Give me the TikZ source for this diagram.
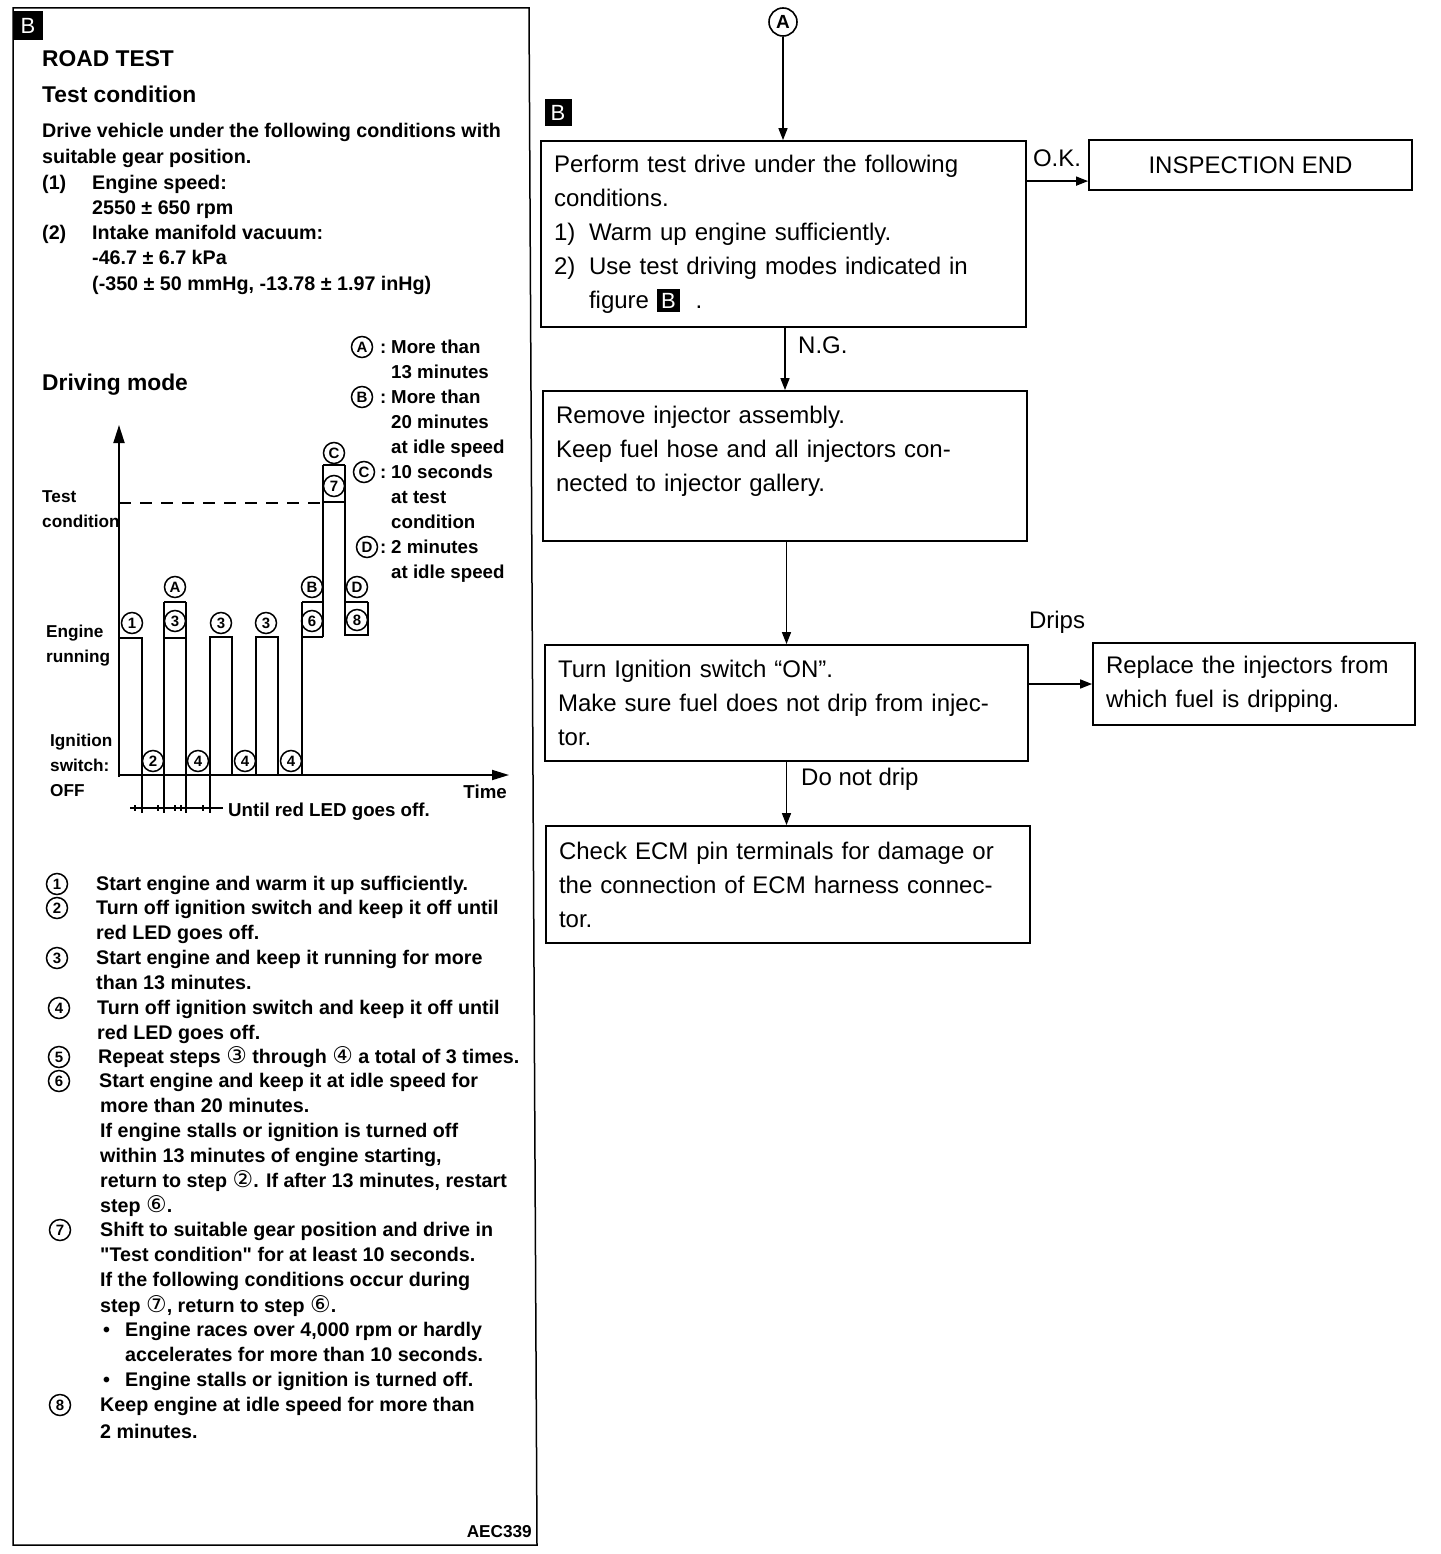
\documentclass[tikz,border=0pt]{standalone}
\usepackage{fontspec}
\setmainfont{Liberation Sans}
\newfontfamily\djv{DejaVu Sans}
\newfontfamily\qf{Liberation Sans}[Ligatures=TeXOff]
\usetikzlibrary{arrows.meta,calc}
\newcommand{\cn}[1]{{\djv\mdseries\fontsize{23}{19}\selectfont #1}}
\newcommand{\sq}{{\qf\bfseries "}}
\newcommand{\bdg}{{\setlength{\fboxsep}{4pt}\colorbox{black}{\textcolor{white}{\fontsize{22}{22}\selectfont B}}}}
\begin{document}
\begin{tikzpicture}[x=1pt,y=-1pt,
  lt/.style={font=\bfseries\fontsize{19.7}{25}\selectfont, anchor=base west, inner sep=0pt},
  hd/.style={font=\bfseries\fontsize{22.8}{25}\selectfont, anchor=base west, inner sep=0pt},
  ch/.style={font=\bfseries\fontsize{18.7}{25}\selectfont, anchor=base west, inner sep=0pt},
  chs/.style={font=\bfseries\fontsize{17.2}{25}\selectfont, anchor=base west, inner sep=0pt},
  cc/.style={circle, draw, line width=1.5pt, minimum size=21pt, inner sep=0pt, font=\bfseries\fontsize{15}{15}\selectfont},
  fbox/.style={draw, line width=1.8pt, align=left, inner xsep=13pt, inner ysep=0pt, font=\fontsize{24}{34}\selectfont},
  rt/.style={font=\fontsize{24}{24}\selectfont, inner sep=0pt},
  arr/.style={line width=1.5pt, -{Triangle[length=12pt,width=9pt]}},
  cl/.style={line width=1.8pt},
  thn/.style={line width=1.1pt},
  badge/.style={fill=black, text=white, inner sep=0pt, font=\fontsize{22}{22}\selectfont},
]
\useasboundingbox (0,0) rectangle (1440,1554);
\fill[white] (0,0) rectangle (1440,1554);

% ===== Left panel =====
\draw[line width=1.5pt] (13,8) -- (529,8) -- (537,1545) -- (13,1545) -- cycle;
\node[badge, minimum size=29pt] (bdgL) at (28,26) {B};

\node[hd] (h1) at (42,67) {ROAD TEST};
\node[hd] (h2) at (42,103) {Test condition};
\node[lt] (p1) at (42,138) {Drive vehicle under the following conditions with};
\node[lt] (p2) at (42,164) {suitable gear position.};
\node[lt] (p3a) at (42,190) {(1)};
\node[lt] (p3) at (92,190) {Engine speed:};
\node[lt] (p4) at (92,215) {2550 ± 650 rpm};
\node[lt] (p5a) at (42,240) {(2)};
\node[lt] (p5) at (92,240) {Intake manifold vacuum:};
\node[lt] (p6) at (92,265) {-46.7 ± 6.7 kPa};
\node[lt] (p7) at (92,290) {(-350 ± 50 mmHg, -13.78 ± 1.97 inHg)};
\node[hd] (h3) at (42,390) {Driving mode};

% legend
\node[cc] (lgA) at (362,347) {A};
\node[cc] (lgB) at (362,397) {B};
\node[cc] (lgC) at (364,472) {C};
\node[cc] (lgD) at (367,547) {D};
\node[ch] (lc1) at (380,353) {:};
\node[ch] (lc2) at (380,403) {:};
\node[ch] (lc3) at (380,478) {:};
\node[ch] (lc4) at (380,553) {:};
\node[ch] (lg1) at (391,353) {More than};
\node[ch] (lg2) at (391,378) {13 minutes};
\node[ch] (lg3) at (391,403) {More than};
\node[ch] (lg4) at (391,428) {20 minutes};
\node[ch] (lg5) at (391,453) {at idle speed};
\node[ch] (lg6) at (391,478) {10 seconds};
\node[ch] (lg7) at (391,503) {at test};
\node[ch] (lg8) at (391,528) {condition};
\node[ch] (lg9) at (391,553) {2 minutes};
\node[ch] (lg10) at (391,578) {at idle speed};

% chart labels
\node[chs] (tc1) at (42,502) {Test};
\node[chs] (tc2) at (42,527) {condition};
\node[chs] (er1) at (46,637) {Engine};
\node[chs] (er2) at (46,662) {running};
\node[chs] (ig1) at (50,746) {Ignition};
\node[chs] (ig2) at (50,771) {switch:};
\node[chs] (ig3) at (50,796) {OFF};
\node[ch, anchor=base east] (tm) at (507,798) {Time};
\node[ch] (until) at (228,816) {Until red LED goes off.};

% axes
\draw[line width=1.8pt, -{Triangle[length=18pt,width=11pt]}] (119,777) -- (119,425);
\draw[line width=1.8pt, -{Triangle[length=17pt,width=10pt]}] (119,775) -- (509,775);
\draw[line width=1.8pt, dash pattern=on 12pt off 9pt] (119,503) -- (323,503);

% pulses
\draw[cl] (119,638) -- (142,638) -- (142,775);
\draw[cl] (164,775) -- (164,602);
\draw[cl] (186,775) -- (186,602);
\draw[cl] (164,638) -- (186,638);
\draw[thn] (164,602) -- (186,602);
\draw[cl] (210,775) -- (210,637) -- (232,637) -- (232,775);
\draw[cl] (256,775) -- (256,637) -- (278,637) -- (278,775);
\draw[cl] (302,775) -- (302,602);
\draw[thn] (302,602) -- (323,602);
\draw[cl] (302,637) -- (323,637);
\draw[cl] (323,637) -- (323,465);
\draw[thn] (323,465) -- (345,465);
\draw[cl] (323,502) -- (345,502);
\draw[cl] (345,465) -- (345,635) -- (368,635) -- (368,602);
\draw[thn] (345,602) -- (368,602);

% chart circles
\node[cc] (c1) at (132,623) {1};
\node[cc] (c3a) at (175,621) {3};
\node[cc] (cAa) at (175,587) {A};
\node[cc] (c3b) at (221,623) {3};
\node[cc] (c3c) at (266,623) {3};
\node[cc] (c6) at (312,621) {6};
\node[cc] (cB) at (312,587) {B};
\node[cc] (c7) at (334,486) {7};
\node[cc] (cC) at (334,453) {C};
\node[cc] (c8) at (357,620) {8};
\node[cc] (cD) at (357,587) {D};
\node[cc] (c2) at (153,761) {2};
\node[cc] (c4a) at (198,761) {4};
\node[cc] (c4b) at (245,761) {4};
\node[cc] (c4c) at (291,761) {4};

% dimension under chart
\draw[cl] (142,775) -- (142,813);
\draw[cl] (164,775) -- (164,813);
\draw[cl] (186,775) -- (186,813);
\draw[cl] (210,775) -- (210,813);
\draw[line width=1.2pt] (130,808) -- (223,808);
\foreach \t in {135,158,175,181,203} \draw[line width=1.1pt] (\t,805) -- (\t,811);

% numbered list
\node[cc] (li1) at (57,884) {1};
\node[cc] (li2) at (57,908) {2};
\node[cc] (li3) at (57,958) {3};
\node[cc] (li4) at (59,1008) {4};
\node[cc] (li5) at (59,1057) {5};
\node[cc] (li6) at (59,1081) {6};
\node[cc] (li7) at (60,1230) {7};
\node[cc] (li8) at (60,1405) {8};

\node[lt] (t1) at (96,890) {Start engine and warm it up sufficiently.};
\node[lt] (t2) at (96,914) {Turn off ignition switch and keep it off until};
\node[lt] (t3) at (96,939) {red LED goes off.};
\node[lt] (t4) at (96,964) {Start engine and keep it running for more};
\node[lt] (t5) at (96,989) {than 13 minutes.};
\node[lt] (t6) at (97,1014) {Turn off ignition switch and keep it off until};
\node[lt] (t7) at (97,1039) {red LED goes off.};
\node[lt] (t8) at (98,1063) {Repeat steps \cn{③} through \cn{④} a total of 3 times.};
\node[lt] (t9) at (99,1087) {Start engine and keep it at idle speed for};
\node[lt] (t10) at (100,1112) {more than 20 minutes.};
\node[lt] (t11) at (100,1137) {If engine stalls or ignition is turned off};
\node[lt] (t12) at (100,1162) {within 13 minutes of engine starting,};
\node[lt] (t13) at (100,1187) {return to step \cn{②}. If after 13 minutes, restart};
\node[lt] (t14) at (100,1212) {step \cn{⑥}.};
\node[lt] (t15) at (100,1236) {Shift to suitable gear position and drive in};
\node[lt] (t16) at (100,1261) {\sq Test condition\sq{} for at least 10 seconds.};
\node[lt] (t17) at (100,1286) {If the following conditions occur during};
\node[lt] (t18) at (100,1312) {step \cn{⑦}, return to step \cn{⑥}.};
\node[lt] (bu1) at (103,1336) {•};
\node[lt] (t19) at (125,1336) {Engine races over 4,000 rpm or hardly};
\node[lt] (t20) at (125,1361) {accelerates for more than 10 seconds.};
\node[lt] (bu2) at (103,1386) {•};
\node[lt] (t21) at (125,1386) {Engine stalls or ignition is turned off.};
\node[lt] (t22) at (100,1411) {Keep engine at idle speed for more than};
\node[lt] (t23) at (100,1438) {2 minutes.};
\node[chs, anchor=base east] (code) at (532,1537) {AEC339};

% ===== Right flowchart =====
\node[circle, draw, line width=1.6pt, minimum size=28pt, inner sep=0pt, font=\bfseries\fontsize{19}{19}\selectfont] (cA) at (783,22) {A};
\node[badge, minimum size=27pt] (bdgR) at (558,113) {B};

\node[fbox, minimum width=485pt, minimum height=186pt, text width=459pt] (b1) at (783.5,234)
 {Perform test drive under the following\\
  conditions.\\
  \makebox[35pt][l]{1)}Warm up engine sufficiently.\\
  \makebox[35pt][l]{2)}Use test driving modes indicated in\\
  \hspace*{35pt}figure \bdg\ \ .};
\node[fbox, minimum width=323pt, minimum height=50pt, align=center] (b2) at (1250.5,165) {INSPECTION END};
\node[fbox, minimum width=484pt, minimum height=150pt, text width=458pt] (b3) at (785,466)
 {Remove injector assembly.\\
  Keep fuel hose and all injectors con-\\
  nected to injector gallery.\\
  \mbox{}};
\node[fbox, minimum width=483pt, minimum height=116pt, text width=457pt] (b4) at (786.5,703)
 {Turn Ignition switch “ON”.\\
  Make sure fuel does not drip from injec-\\
  tor.};
\node[fbox, minimum width=322pt, minimum height=82pt, text width=296pt] (b5) at (1254,684)
 {Replace the injectors from\\
  which fuel is dripping.};
\node[fbox, minimum width=484pt, minimum height=117pt, text width=458pt] (b6) at (788,884.5)
 {Check ECM pin terminals for damage or\\
  the connection of ECM harness connec-\\
  tor.};

\draw[arr] (cA.south) -- (cA.south |- b1.north);
\coordinate (okpt) at ([yshift=-41pt]b1.north east);
\draw[arr] (okpt) -- (okpt -| b2.west);
\draw[arr] (b3.north |- b1.south) -- (b3.north);
\draw[arr] (b4.north |- b3.south) -- (b4.north);
\draw[arr] (b4.east |- b5.west) -- (b5.west);
\draw[arr] (b4.south) -- (b4.south |- b6.north);

\node[rt] (lok) at (1057,158) {O.K.};
\node[rt, anchor=west] (lng) at (798,345) {N.G.};
\node[rt] (ldr) at (1057,622) {Drips};
\node[rt, anchor=west] (ldn) at (801,779) {Do not drip};
\end{tikzpicture}
\end{document}
